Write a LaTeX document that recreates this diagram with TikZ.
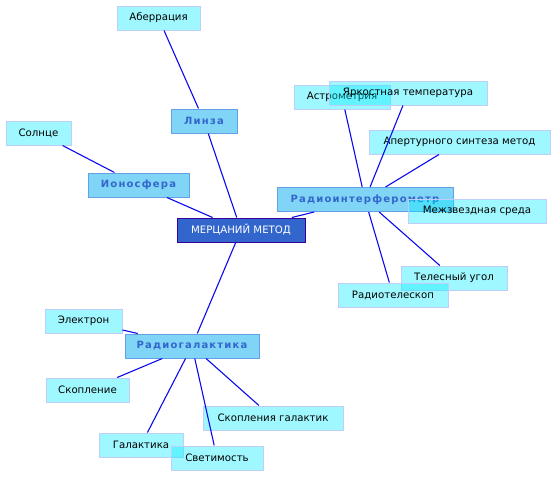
\documentclass[tikz,border=0pt]{standalone}
\usepackage{fontspec}
\setmainfont{DejaVu Sans}
\newfontfamily\spbold{DejaVu Sans Bold}[LetterSpace=12]
\definecolor{leafcyan}{RGB}{0,236,255}
\definecolor{leafborder}{RGB}{190,205,250}
\definecolor{midfill}{RGB}{128,212,246}
\definecolor{midborder}{RGB}{100,160,230}
\definecolor{midtext}{RGB}{51,102,204}
\definecolor{rootfill}{RGB}{51,102,204}
\definecolor{rootborder}{RGB}{51,0,153}
\definecolor{linkblue}{RGB}{10,10,240}
\tikzset{
  box/.style={minimum height=24pt, inner sep=0pt, line width=1pt},
  leaf/.style={box, draw=leafborder, fill=leafcyan, fill opacity=0.376, draw opacity=1, text opacity=1, font=\fontsize{10.2}{11}\selectfont},
  mid/.style={box, draw=midborder, fill=midfill, text=midtext, font=\spbold\fontsize{10}{11}\selectfont},
  rootbox/.style={box, draw=rootborder, fill=rootfill, text=white, font=\fontsize{10.2}{11}\selectfont},
  link/.style={draw=linkblue, line width=1.1pt}
}
\begin{document}
\begin{tikzpicture}[x=1pt,y=-1pt]
\useasboundingbox (0,0) rectangle (557,477);
\node[rootbox, minimum width=128pt] (root) at (241,230) {МЕРЦАНИЙ МЕТОД};
\node[mid, minimum width=66pt] (linza) at (204,121) {Линза};
\node[mid, minimum width=101pt] (iono) at (138.5,185) {Ионосфера};
\node[mid, minimum width=176pt] (radint) at (365,199.5) {Радиоинтерферометр};
\node[mid, minimum width=134pt] (radgal) at (192,346) {Радиогалактика};
\node[leaf, minimum width=83pt] (aber) at (158.5,18) {Аберрация};
\node[leaf, minimum width=65pt] (sun) at (38.5,133) {Солнце};
\node[leaf, minimum width=96pt] (astro) at (342,97) {Астрометрия};
\node[leaf, minimum width=158pt] (bright) at (408,93) {Яркостная температура};
\node[leaf, minimum width=181pt] (apert) at (459.5,142) {Апертурного синтеза метод};
\node[leaf, minimum width=138pt] (mezh) at (477,211) {Межзвездная среда};
\node[leaf, minimum width=106pt] (angle) at (454,278) {Телесный угол};
\node[leaf, minimum width=110pt] (tele) at (393,295) {Радиотелескоп};
\node[leaf, minimum width=77pt] (elec) at (83.5,321) {Электрон};
\node[leaf, minimum width=83pt] (clust) at (87.5,390) {Скопление};
\node[leaf, minimum width=140pt] (gclust) at (273,418) {Скопления галактик};
\node[leaf, minimum width=84pt] (gal) at (141,445) {Галактика};
\node[leaf, minimum width=92pt] (lum) at (217,458) {Светимость};
\draw[link] (root) -- (linza);
\draw[link] (root) -- (iono);
\draw[link] (root) -- (radint);
\draw[link] (root) -- (radgal);
\draw[link] (linza) -- (aber);
\draw[link] (iono) -- (sun);
\draw[link] (radint) -- (astro);
\draw[link] (radint) -- (bright);
\draw[link] (radint) -- (apert);
\draw[link] (radint) -- (angle);
\draw[link] (radint) -- (tele);
\draw[link] (radgal) -- (elec);
\draw[link] (radgal) -- (clust);
\draw[link] (radgal) -- (gclust);
\draw[link] (radgal) -- (gal);
\draw[link] (radgal) -- (lum);
\end{tikzpicture}
\end{document}
